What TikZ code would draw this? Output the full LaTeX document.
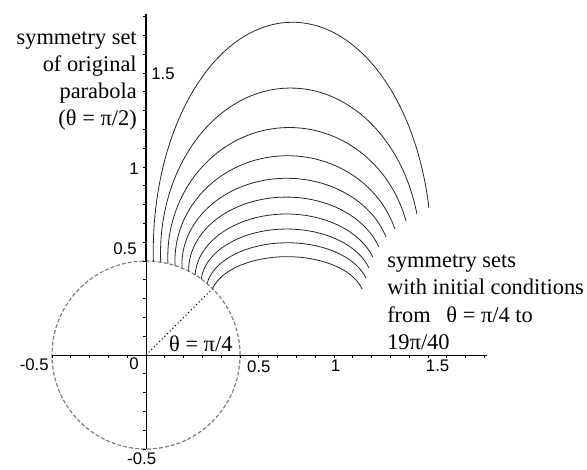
\documentclass[tikz,border=0pt]{standalone}
\usepackage{fontspec}
\setmainfont{Liberation Serif}
\newfontfamily\ticksans{Liberation Sans}
\definecolor{circgray}{HTML}{808080}
\tikzset{
  axisline/.style={line width=0.7pt, draw=black},
  tickmark/.style={line width=0.5pt, draw=black},
  symline/.style={line width=1.6pt, draw=black},
  sset/.style={line width=0.6pt, draw=black!85},
  unitcirc/.style={draw=circgray, line width=0.9pt, dash pattern=on 3pt off 1.5pt},
  ticklab/.style={font=\ticksans\fontsize{12.6}{14}\selectfont, inner sep=0pt},
  note/.style={font=\fontsize{16.8}{20.3}\selectfont, inner sep=0pt},
}

\begin{document}
\begin{tikzpicture}[x=141pt, y=141pt]
  \useasboundingbox (-0.7766,-0.6064) rectangle (2.3457,1.8883);
  % circle, axes and ticks
  \draw[unitcirc] (0,0) circle[radius=0.5];
  \draw[axisline] (-0.5,0) -- (1.815,0);
  \draw[axisline] (0,-0.5) -- (0,1.815);
  \draw[symline] (0,0.5) -- (0,1.815);
  \foreach \t in {-5,...,18} {
    \draw[tickmark] (\t/10,0) -- ++(0,-0.016);
    \draw[tickmark] (0,\t/10) -- ++(-0.016,0);
  }
  \draw[dotted, line width=0.8pt] (0,0) -- (45:0.5);
  % symmetry sets, one per initial angle
  \foreach \th/\xe/\ye/\yp/\yc in {85.5/1.505/0.782/1.77/0.55, 81/1.441/0.750/1.42/0.54,
      76.5/1.383/0.713/1.21/0.52, 72/1.324/0.670/1.06/0.50, 67.5/1.277/0.628/0.94/0.48,
      63/1.239/0.574/0.84/0.45, 58.5/1.207/0.521/0.75/0.41, 54/1.186/0.463/0.67/0.38,
      49.5/1.170/0.410/0.597/0.34, 45/1.149/0.351/0.523/0.30} {
    \pgfmathsetmacro\sx{0.5*cos(\th)}
    \pgfmathsetmacro\sy{0.5*sin(\th)}
    \pgfmathsetmacro\ry{\yp-\yc}
    \pgfmathsetmacro\ua{(\sy-\yc)/\ry}
    \pgfmathsetmacro\ub{(\ye-\yc)/\ry}
    \pgfmathsetmacro\rx{(\xe-\sx)/(sqrt(1-\ua*\ua)+sqrt(1-\ub*\ub))}
    \draw[sset] (\th:0.5) arc[start angle={180-asin(\ua)}, end angle={asin(\ub)},
      x radius=\rx, y radius=\ry];
  }
  % tick labels
  \node[ticklab, anchor=north east] (xm5) at (-0.516,-0.016) {-0.5};
  \node[ticklab, anchor=north east] (x0) at (-0.037,-0.011) {0};
  \node[ticklab, anchor=north west] (x5) at (0.537,-0.027) {0.5};
  \node[ticklab, anchor=north] (x10) at (1.008,-0.027) {1};
  \node[ticklab, anchor=north] (x15) at (1.551,-0.027) {1.5};
  \node[ticklab, anchor=south east] (y5) at (-0.048,0.532) {0.5};
  \node[ticklab, anchor=east] (y10) at (-0.037,0.99) {1};
  \node[ticklab, anchor=west] (y15) at (0.027,1.495) {1.5};
  \node[ticklab, anchor=north] (ym5) at (-0.023,-0.516) {-0.5};
  % annotations
  \node[note, align=right, anchor=north east] (origlab) at (-0.048,1.722)
    {symmetry set\\of original\\parabola\\(θ = π/2)};
  \node[note, align=left, anchor=north west] (setslab) at (1.282,0.532)
    {symmetry sets\\with initial conditions\\from\hspace{0.45em} θ = π/4 to\\19π/40};
  \node[note, anchor=base west] (anglab) at (0.122,0.016) {θ = π/4};
\end{tikzpicture}
\end{document}
